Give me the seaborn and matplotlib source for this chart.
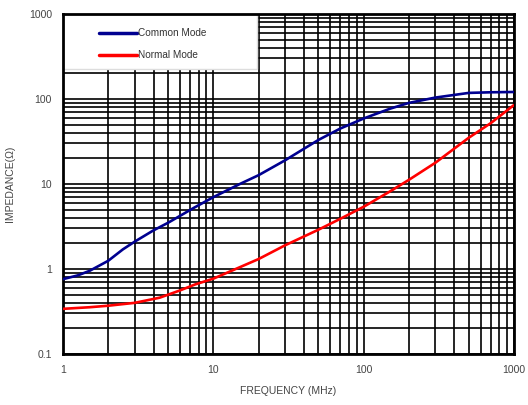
import numpy as np
import pandas as pd
import seaborn as sns
import matplotlib.pyplot as plt
from matplotlib.patches import Rectangle
from matplotlib.ticker import FixedLocator, LogLocator, NullFormatter

# values (frequency in MHz, impedance in ohm)
freq_common = [1, 1.25, 1.5, 1.75, 2, 2.5, 3, 4, 5, 7.5, 10, 15, 20, 30, 50,
               70, 100, 150, 200, 300, 500, 700, 1000]
z_common = [0.76, 0.84, 0.95, 1.1, 1.25, 1.7, 2.1, 2.85, 3.5, 5.3, 7.0, 10,
            12.7, 19, 33, 45, 59, 77, 90, 104, 118, 120, 121]
freq_normal = [1, 1.5, 2, 3, 4.4, 6, 7.6, 10, 15, 20, 30, 50, 70, 100, 150,
               200, 300, 500, 700, 1000]
z_normal = [0.34, 0.355, 0.37, 0.40, 0.46, 0.56, 0.66, 0.77, 1.05, 1.31,
            1.9, 2.9, 3.9, 5.4, 8.2, 11.2, 17.8, 35, 52, 85]

series_names = ["Common Mode", "Normal Mode"]
series_colors = ["#000090", "#ff0000"]
x_ticks = [1, 10, 100, 1000]
y_ticks = [0.1, 1, 10, 100, 1000]

df = pd.concat([
    pd.DataFrame({"freq": freq_common, "z": z_common, "mode": series_names[0]}),
    pd.DataFrame({"freq": freq_normal, "z": z_normal, "mode": series_names[1]}),
])

sns.set_style("white")
plt.rcParams["font.family"] = ["Liberation Sans", "DejaVu Sans"]

fig = plt.figure(figsize=(5.28, 4.05), dpi=100)
ax = fig.add_axes([0.1193, 0.1259, 0.8542, 0.8395])

sns.lineplot(data=df, x="freq", y="z", hue="mode", palette=series_colors,
             linewidth=1.9, ax=ax, zorder=3, legend=False)

ax.set_xscale("log")
ax.set_yscale("log")
ax.set_xlim(1, 1000)
ax.set_ylim(0.1, 1000)

ax.xaxis.set_major_locator(FixedLocator(x_ticks))
ax.yaxis.set_major_locator(FixedLocator(y_ticks))
ax.set_xticklabels([str(t) for t in x_ticks])
ax.set_yticklabels([str(t) for t in y_ticks])
ax.xaxis.set_minor_locator(LogLocator(base=10, subs=np.arange(2, 10)))
ax.yaxis.set_minor_locator(LogLocator(base=10, subs=np.arange(2, 10)))
ax.xaxis.set_minor_formatter(NullFormatter())
ax.yaxis.set_minor_formatter(NullFormatter())

ax.set_axisbelow(True)
ax.grid(True, which="both", color="black", linewidth=1.2)
ax.tick_params(which="both", length=0, labelsize=7.5, labelcolor="#444444", pad=8)

for s in ax.spines.values():
    s.set_color("black")
    s.set_linewidth(2)

ax.set_xlabel("FREQUENCY (MHz)", fontsize=7.5, color="#444444", labelpad=8)
ax.set_ylabel("IMPEDANCE(Ω)", fontsize=7.5, color="#444444", labelpad=10)

# white legend box that hides the grid in the upper left corner
ax.add_patch(Rectangle((0, 0.837), 0.43, 0.163, transform=ax.transAxes,
                       facecolor="white", edgecolor="#dddddd", linewidth=1,
                       zorder=2))
handles = [plt.Line2D([], [], color=c, linewidth=2.5) for c in series_colors]
ax.legend(handles, series_names, loc="upper left", bbox_to_anchor=(0.06, 0.985),
          frameon=False, fontsize=7.2, handlelength=3.8, handletextpad=0.1,
          labelspacing=1.2, labelcolor="#333333")

fig.savefig("out.png", dpi=100)
